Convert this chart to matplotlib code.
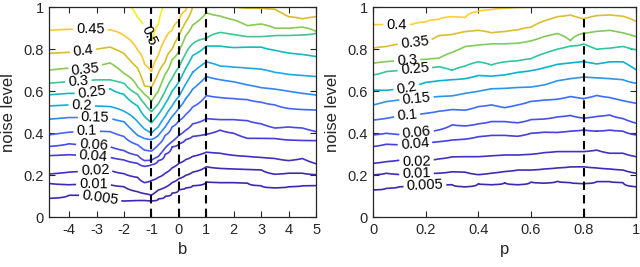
import numpy as np
import matplotlib
matplotlib.use("Agg")
import matplotlib.pyplot as plt
from matplotlib.colors import LinearSegmentedColormap, Normalize

plt.rcParams['font.family'] = ['Liberation Sans', 'DejaVu Sans']

# ---------------- data: left panel (b) ----------------
b_cols = [-4.75, -4, -3.5, -3, -2.5, -2, -1.5, -1.25, -1, -0.75, -0.5, -0.25,
          0, 0.25, 0.5, 1, 1.5, 2, 2.5, 3, 3.5, 4, 4.5, 5]
left_levels = [0.005, 0.01, 0.02, 0.04, 0.06, 0.1, 0.15, 0.2, 0.25, 0.3, 0.35, 0.4, 0.45, 0.5]
# noise level at which each contour crosses each b column (>1 means above the plot)
left_h_0005 = [0.09, 0.105, 0.105, 0.10, 0.09, 0.078, 0.08, 0.08, 0.078, 0.088, 0.10, 0.115, 0.132, 0.14, 0.15, 0.168, 0.165, 0.165, 0.163, 0.15, 0.14, 0.146, 0.15, 0.152]
left_h_001 = [0.162, 0.155, 0.158, 0.158, 0.155, 0.146, 0.122, 0.113, 0.106, 0.13, 0.143, 0.165, 0.184, 0.2, 0.215, 0.241, 0.233, 0.23, 0.228, 0.226, 0.205, 0.21, 0.21, 0.203]
left_h_002 = [0.206, 0.215, 0.22, 0.225, 0.225, 0.208, 0.19, 0.165, 0.175, 0.19, 0.21, 0.235, 0.257, 0.275, 0.29, 0.31, 0.305, 0.295, 0.29, 0.285, 0.28, 0.27, 0.28, 0.255]
left_h_004 = [0.294, 0.298, 0.295, 0.29, 0.285, 0.273, 0.257, 0.243, 0.25, 0.27, 0.30, 0.335, 0.35, 0.37, 0.385, 0.395, 0.415, 0.40, 0.376, 0.376, 0.375, 0.368, 0.366, 0.365]
left_h_006 = [0.337, 0.35, 0.345, 0.345, 0.336, 0.318, 0.295, 0.27, 0.272, 0.29, 0.33, 0.36, 0.39, 0.415, 0.445, 0.47, 0.465, 0.465, 0.46, 0.445, 0.425, 0.43, 0.425, 0.408]
left_h_01 = [0.392, 0.405, 0.41, 0.41, 0.408, 0.385, 0.345, 0.32, 0.315, 0.345, 0.39, 0.43, 0.46, 0.49, 0.525, 0.58, 0.57, 0.565, 0.56, 0.548, 0.535, 0.518, 0.513, 0.511]
left_h_015 = [0.467, 0.475, 0.475, 0.473, 0.471, 0.455, 0.39, 0.375, 0.37, 0.39, 0.43, 0.48, 0.52, 0.565, 0.61, 0.67, 0.655, 0.645, 0.63, 0.617, 0.61, 0.6, 0.59, 0.582]
left_h_02 = [0.53, 0.535, 0.53, 0.53, 0.527, 0.505, 0.455, 0.42, 0.40, 0.43, 0.48, 0.53, 0.575, 0.635, 0.69, 0.74, 0.72, 0.715, 0.71, 0.705, 0.69, 0.68, 0.675, 0.67]
left_h_025 = [0.583, 0.59, 0.59, 0.60, 0.612, 0.585, 0.53, 0.48, 0.45, 0.49, 0.54, 0.6, 0.645, 0.71, 0.77, 0.815, 0.815, 0.808, 0.81, 0.81, 0.795, 0.782, 0.775, 0.765]
left_h_03 = [0.638, 0.646, 0.65, 0.654, 0.654, 0.638, 0.585, 0.54, 0.503, 0.54, 0.6, 0.66, 0.715, 0.78, 0.825, 0.852, 0.88, 0.87, 0.86, 0.86, 0.865, 0.866, 0.868, 0.876]
left_h_035 = [0.70, 0.71, 0.70, 0.72, 0.735, 0.685, 0.62, 0.585, 0.551, 0.60, 0.68, 0.75, 0.79, 0.865, 0.915, 0.974, 0.958, 0.94, 0.912, 0.92, 0.9, 0.9, 0.905, 0.884]
left_h_04 = [0.78, 0.785, 0.79, 0.80, 0.81, 0.78, 0.71, 0.625, 0.62, 0.686, 0.74, 0.80, 0.865, 0.93, 1.0, 1.06, 1.03, 1.0, 0.995, 0.995, 0.99, 0.955, 0.945, 0.955]
left_h_045 = [0.89, 0.895, 0.895, 0.895, 0.892, 0.865, 0.795, 0.73, 0.695, 0.77, 0.85, 0.89, 0.935, 0.985, 1.08, 1.12, 1.1, 1.06, 1.06, 1.06, 1.06, 1.04, 1.04, 1.04]
left_h_05 = [1.02, 1.02, 1.02, 1.02, 1.02, 1.03, 0.95, 0.9, 0.82, 0.92, 1.02, 1.05, 1.08, 1.1, 1.14, 1.18, 1.15, 1.12, 1.12, 1.12, 1.12, 1.1, 1.1, 1.1]
left_vlines = [-1, 0, 1]
left_xticks = [-4, -3, -2, -1, 0, 1, 2, 3, 4, 5]

# ---------------- data: right panel (p) ----------------
p_cols = [0, 0.05, 0.1, 0.15, 0.2, 0.25, 0.3, 0.35, 0.4, 0.45, 0.5,
          0.55, 0.6, 0.65, 0.7, 0.75, 0.8, 0.85, 0.9, 0.95, 1.0]
right_levels = [0.005, 0.01, 0.02, 0.04, 0.06, 0.1, 0.15, 0.2, 0.25, 0.3, 0.35, 0.4]
right_h_0005 = [0.13, 0.138, 0.146, 0.15, 0.152, 0.154, 0.156, 0.145, 0.16, 0.155, 0.165, 0.155, 0.168, 0.163, 0.172, 0.165, 0.16, 0.17, 0.17, 0.165, 0.146]
right_h_001 = [0.202, 0.21, 0.204, 0.206, 0.208, 0.21, 0.217, 0.215, 0.203, 0.21, 0.218, 0.225, 0.225, 0.23, 0.235, 0.24, 0.241, 0.235, 0.23, 0.225, 0.21]
right_h_002 = [0.257, 0.265, 0.272, 0.265, 0.27, 0.278, 0.288, 0.289, 0.289, 0.293, 0.297, 0.297, 0.3, 0.308, 0.313, 0.313, 0.313, 0.32, 0.305, 0.305, 0.289]
right_h_004 = [0.337, 0.348, 0.345, 0.35, 0.355, 0.36, 0.368, 0.372, 0.384, 0.39, 0.39, 0.386, 0.4, 0.405, 0.404, 0.41, 0.415, 0.41, 0.415, 0.41, 0.392]
right_h_006 = [0.392, 0.40, 0.394, 0.40, 0.405, 0.416, 0.44, 0.435, 0.445, 0.456, 0.456, 0.45, 0.465, 0.468, 0.478, 0.485, 0.472, 0.48, 0.487, 0.47, 0.448]
right_h_01 = [0.463, 0.471, 0.485, 0.487, 0.495, 0.505, 0.513, 0.51, 0.527, 0.535, 0.522, 0.535, 0.552, 0.558, 0.562, 0.575, 0.565, 0.58, 0.57, 0.555, 0.543]
right_h_015 = [0.535, 0.551, 0.559, 0.565, 0.57, 0.575, 0.578, 0.59, 0.6, 0.612, 0.614, 0.618, 0.62, 0.63, 0.65, 0.66, 0.668, 0.664, 0.66, 0.655, 0.638]
right_h_02 = [0.606, 0.604, 0.61, 0.62, 0.642, 0.65, 0.655, 0.66, 0.675, 0.672, 0.678, 0.69, 0.698, 0.712, 0.728, 0.735, 0.741, 0.73, 0.74, 0.74, 0.702]
right_h_025 = [0.678, 0.694, 0.70, 0.705, 0.71, 0.717, 0.70, 0.72, 0.74, 0.725, 0.74, 0.745, 0.755, 0.78, 0.8, 0.815, 0.825, 0.8, 0.805, 0.813, 0.797]
right_h_03 = [0.733, 0.741, 0.745, 0.748, 0.752, 0.757, 0.785, 0.813, 0.82, 0.826, 0.826, 0.829, 0.84, 0.86, 0.875, 0.84, 0.876, 0.885, 0.89, 0.878, 0.86]
right_h_035 = [0.805, 0.813, 0.825, 0.83, 0.833, 0.865, 0.87, 0.884, 0.89, 0.878, 0.884, 0.892, 0.905, 0.935, 0.955, 0.963, 0.945, 0.96, 0.963, 0.957, 0.932]
right_h_04 = [0.916, 0.918, 0.916, 0.918, 0.93, 0.942, 0.955, 0.95, 0.98, 0.988, 0.995, 0.998, 1.0, 1.01, 1.03, 1.04, 1.04, 1.04, 1.04, 1.04, 1.04]
right_vlines = [0.8]
right_xticks = [0, 0.2, 0.4, 0.6, 0.8, 1]

yticks = [0, 0.2, 0.4, 0.6, 0.8, 1]

# ---------------- styling ----------------
parula_pts = [
    (0.2422, 0.1504, 0.6603), (0.2706, 0.2147, 0.8364), (0.2813, 0.3006, 0.9414),
    (0.2699, 0.3892, 0.9906), (0.1963, 0.4847, 0.9892), (0.1687, 0.5703, 0.9359),
    (0.1248, 0.6459, 0.8883), (0.0297, 0.7082, 0.8163), (0.0964, 0.7500, 0.7120),
    (0.2161, 0.7843, 0.5923), (0.3909, 0.8029, 0.4354), (0.6174, 0.7876, 0.2612),
    (0.8203, 0.7498, 0.1535), (0.9728, 0.7298, 0.2394), (0.9892, 0.8136, 0.1885),
    (0.9597, 0.9135, 0.1423), (0.9769, 0.9839, 0.0805)]
pos = [i * 4 / 63 for i in range(16)] + [1.0]
parula = LinearSegmentedColormap.from_list('parula', list(zip(pos, parula_pts)))

AX_COL = (0.15, 0.15, 0.15)


def build_field(xcols, levels, heights, ygrid):
    H = np.array(heights, dtype=float)
    Z = np.empty((len(ygrid), len(xcols)))
    for j in range(len(xcols)):
        hp = np.concatenate([[-0.2], H[:, j], [H[-1, j] + 0.3]])
        vp = np.concatenate([[0.0], levels, [levels[-1] + 0.05]])
        Z[:, j] = np.interp(ygrid, hp, vp)
    return Z


def style_axes(ax, xlim, xticks, xlabel):
    ax.set_xlim(*xlim)
    ax.set_ylim(0, 1)
    ax.set_xticks(xticks)
    ax.set_xticklabels(['%g' % t for t in xticks])
    ax.set_yticks(yticks)
    ax.set_yticklabels(['%g' % t for t in yticks])
    ax.tick_params(direction='in', top=True, right=True, length=4, width=0.8,
                   labelsize=10.5, colors=AX_COL, pad=4)
    for s in ax.spines.values():
        s.set_color(AX_COL)
        s.set_linewidth(0.9)
    ax.set_xlabel(xlabel, fontsize=12, color=AX_COL, labelpad=4)
    ax.set_ylabel('noise level', fontsize=12, color=AX_COL, labelpad=5)


fig = plt.figure(figsize=(6.4, 2.67), dpi=100)
ygrid = np.linspace(0, 1, 401)

# left
axL = fig.add_axes([0.077, 0.186, 0.417, 0.787])
left_heights = [left_h_0005, left_h_001, left_h_002, left_h_004, left_h_006, left_h_01,
                left_h_015, left_h_02, left_h_025, left_h_03, left_h_035, left_h_04,
                left_h_045, left_h_05]
ZL = build_field(b_cols, left_levels, left_heights, ygrid)
csL = axL.contour(b_cols, ygrid, ZL, levels=left_levels, cmap=parula,
                  norm=Normalize(0, 0.52), linewidths=1.2)
left_label_pos = [(-2.87, 0.09), (-3.11, 0.16), (-3.05, 0.222), (-3.11, 0.297),
                  (-3.11, 0.341), (-3.36, 0.408), (-3.05, 0.471), (-3.54, 0.53),
                  (-3.17, 0.598), (-3.66, 0.646), (-3.42, 0.71), (-3.48, 0.784),
                  (-3.23, 0.892), (-1.15, 0.86)]
axL.clabel(csL, csL.levels, manual=left_label_pos, inline=True, fmt='%g',
           fontsize=10.5, colors='k', inline_spacing=3)
for v in left_vlines:
    axL.axvline(v, color='k', lw=1.5, ls=(0, (4, 2.5)))
style_axes(axL, (-4.72, 5), left_xticks, 'b')

# right
axR = fig.add_axes([0.583, 0.186, 0.411, 0.787])
right_heights = [right_h_0005, right_h_001, right_h_002, right_h_004, right_h_006, right_h_01,
                 right_h_015, right_h_02, right_h_025, right_h_03, right_h_035, right_h_04]
ZR = build_field(p_cols, right_levels, right_heights, ygrid)
csR = axR.contour(p_cols, ygrid, ZR, levels=right_levels, cmap=parula,
                  norm=Normalize(0, 0.45), linewidths=1.2)
right_label_pos = [(0.197, 0.148), (0.165, 0.205), (0.165, 0.265), (0.159, 0.35),
                   (0.165, 0.405), (0.129, 0.48), (0.165, 0.567), (0.127, 0.614),
                   (0.159, 0.70), (0.129, 0.752), (0.159, 0.832), (0.089, 0.918)]
axR.clabel(csR, csR.levels, manual=right_label_pos, inline=True, fmt='%g',
           fontsize=10.5, colors='k', inline_spacing=3)
for v in right_vlines:
    axR.axvline(v, color='k', lw=1.5, ls=(0, (4, 2.5)))
style_axes(axR, (0, 1), right_xticks, 'p')

fig.savefig('out.png', dpi=100)
